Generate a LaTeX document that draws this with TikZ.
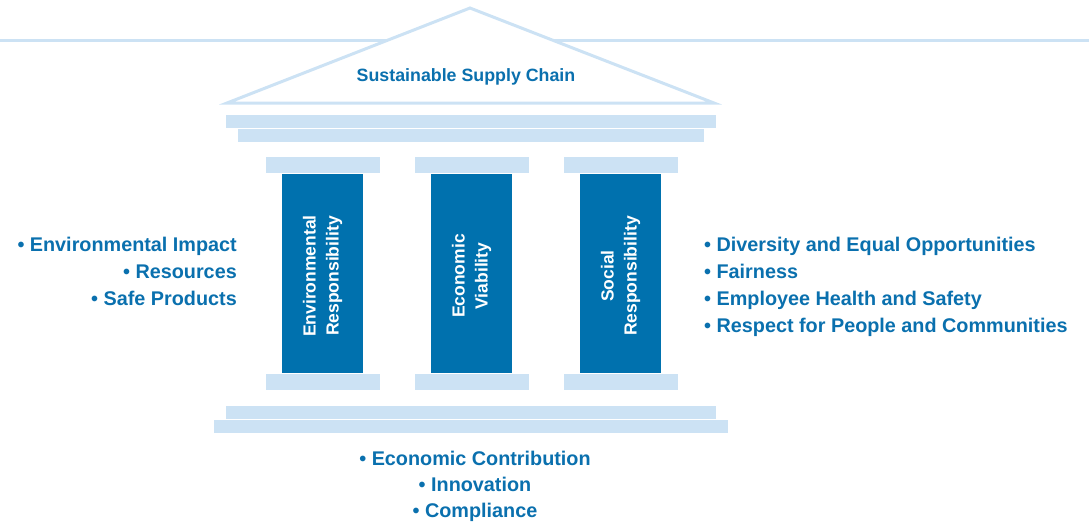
\documentclass[tikz,border=0pt]{standalone}
\usepackage{fontspec}
\setmainfont{Liberation Sans}
\definecolor{dblue}{HTML}{0071AE}
\definecolor{lblue}{HTML}{CCE2F4}
\definecolor{tblue}{HTML}{0A70AE}
\begin{document}
\begin{tikzpicture}[x=1pt,y=-1pt,
  slab/.style={fill=lblue, draw=white, line width=0.8pt, inner sep=0, outer sep=0},
  shaft/.style={fill=dblue, draw=none, inner sep=0, outer sep=0, minimum width=81pt, minimum height=202pt},
  capslab/.style={slab, minimum width=115pt, minimum height=17pt},
  listtext/.style={text=tblue, font=\fontsize{19.8}{22}\selectfont\bfseries, inner sep=0},
  coltext/.style={text=white, font=\fontsize{17.5}{23}\selectfont\bfseries, inner sep=0, align=center, rotate=90}]
\useasboundingbox (0,0) rectangle (1089,525);
% horizon line
\draw[lblue, line width=3pt] (0,40) -- (1089,40);
% roof
\coordinate (rl) at (227,103);
\coordinate (rt) at (470,8);
\coordinate (rr) at (714,103);
\filldraw[fill=white, draw=lblue, line width=3pt, line join=miter] (rl) -- (rt) -- (rr) -- cycle;
\node[text=tblue, font=\fontsize{17.8}{20}\selectfont\bfseries, inner sep=0, anchor=base] (title) at (466,81) {Sustainable Supply Chain};
% entablature
\node[slab, minimum width=491pt, minimum height=14pt] (e1) at (470.5,121.5) {};
\node[slab, minimum width=467pt, minimum height=14pt] (e2) at (470.5,135.5) {};
% pillars
\foreach \n/\x in {a/322.5, b/471.5, c/620.5}{
  \node[shaft] (s\n) at (\x,273) {};
  \node[capslab] (t\n) at (\x,164.5) {};
  \node[capslab] (u\n) at (\x,382) {};
}
\node[coltext] (ca) at (322.5,276) {Environmental\\Responsibility};
\node[coltext] (cb) at (471.5,276) {Economic\\Viability};
\node[coltext] (cc) at (620.5,276) {Social\\Responsibility};
% base
\node[slab, minimum width=491pt, minimum height=14pt] (b1) at (470.5,412) {};
\node[slab, minimum width=515pt, minimum height=14pt] (b2) at (470.5,426) {};
% left list
\node[listtext, anchor=base east] (l1) at (237,251) {• Environmental Impact};
\node[listtext, anchor=base east] (l2) at (237,278) {• Resources};
\node[listtext, anchor=base east] (l3) at (237,305) {• Safe Products};
% right list
\node[listtext, anchor=base west] (r1) at (704,251) {• Diversity and Equal Opportunities};
\node[listtext, anchor=base west] (r2) at (704,278) {• Fairness};
\node[listtext, anchor=base west] (r3) at (704,305) {• Employee Health and Safety};
\node[listtext, anchor=base west] (r4) at (704,332) {• Respect for People and Communities};
% bottom list
\node[listtext, anchor=base] (m1) at (475,465) {• Economic Contribution};
\node[listtext, anchor=base] (m2) at (475,491) {• Innovation};
\node[listtext, anchor=base] (m3) at (475,517) {• Compliance};
\end{tikzpicture}
\end{document}
